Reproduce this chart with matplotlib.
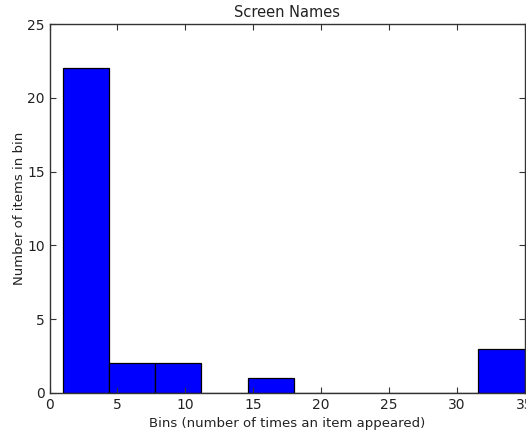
import numpy as np
import matplotlib
matplotlib.use("Agg")
import matplotlib.pyplot as plt

# histogram bins (number of times an item appeared) and counts per bin
bin_edges = [1.0, 4.4, 7.8, 11.2, 14.6, 18.0, 21.4, 24.8, 28.2, 31.6, 35.0]
counts = [22, 2, 2, 0, 1, 0, 0, 0, 0, 3]
x_ticks = [0, 5, 10, 15, 20, 25, 30, 35]
y_ticks = [0, 5, 10, 15, 20, 25]


def main():
    fig = plt.figure(figsize=(5.26, 4.33), dpi=100, facecolor="white")
    ax = fig.add_axes([49.5 / 526, 1 - 393 / 433, (524.5 - 49.5) / 526, (393 - 24) / 433])

    edges = np.array(bin_edges)
    ax.bar(edges[:-1], counts, width=np.diff(edges), align="edge",
           color="#0000ff", edgecolor="black", linewidth=0.9)

    ax.set_xlim(0, 35)
    ax.set_ylim(0, 25)
    ax.set_xticks(x_ticks)
    ax.set_yticks(y_ticks)
    ax.tick_params(direction="in", top=True, right=True, length=4,
                   labelsize=10, colors="#333333", labelcolor="#222222")
    for s in ax.spines.values():
        s.set_color("#333333")
        s.set_linewidth(1.0)

    ax.set_title("Screen Names", fontsize=10.5, color="#222222", pad=5)
    ax.set_xlabel("Bins (number of times an item appeared)", fontsize=9.5, color="#222222")
    ax.set_ylabel("Number of items in bin", fontsize=9.5, color="#222222", labelpad=1)

    fig.savefig("out.png", dpi=100, facecolor="white")


if __name__ == "__main__":
    main()
